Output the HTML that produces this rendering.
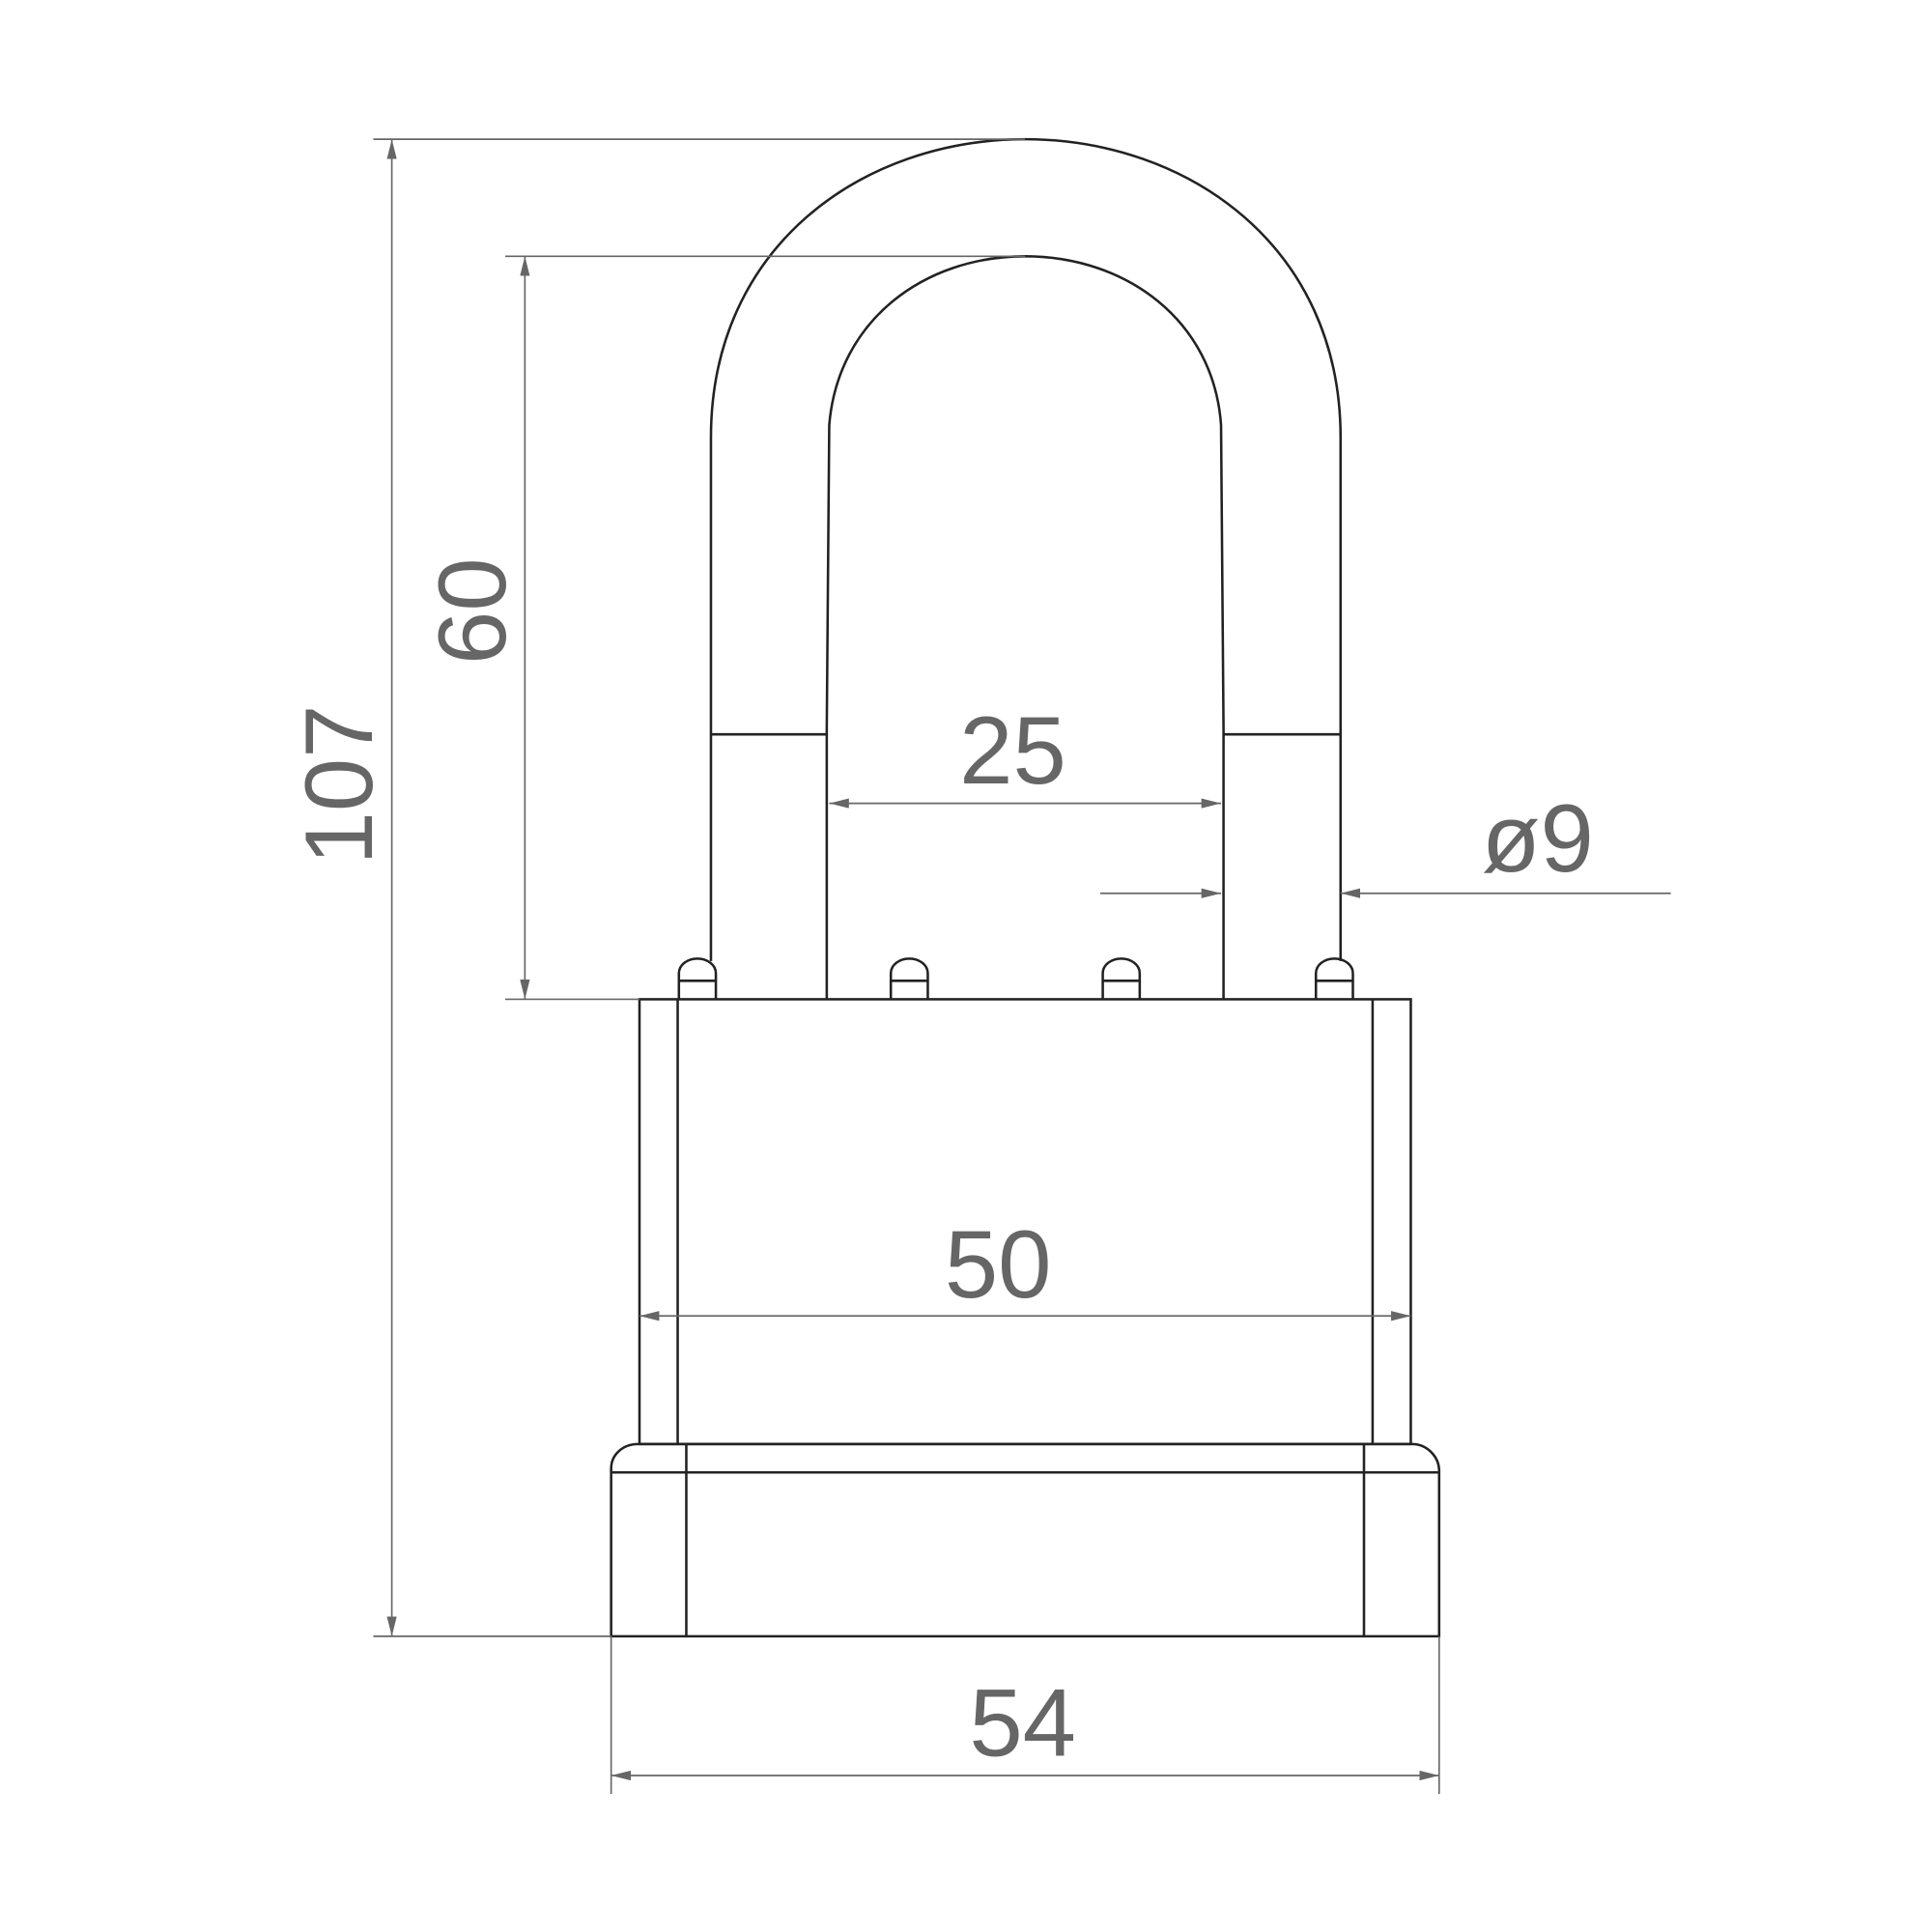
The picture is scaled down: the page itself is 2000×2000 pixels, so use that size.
<!DOCTYPE html>
<html><head><meta charset="utf-8"><style>html,body{margin:0;padding:0;background:#fff}svg{display:block}</style></head>
<body>
<svg width="2000" height="2000" viewBox="0 0 1568 1568" xmlns="http://www.w3.org/2000/svg">
<defs>
<marker id="a" viewBox="0 0 16 8" refX="16" refY="4" markerWidth="16" markerHeight="8" markerUnits="userSpaceOnUse" orient="auto-start-reverse"><path d="M0,0 L16,4 L0,8 Z" fill="#666"/></marker>
</defs>
<rect width="1568" height="1568" fill="#fff"/>
<g fill="none" stroke="#222" stroke-width="2">
<!-- shackle -->
<path d="M577,780 L577,355 C577,200 700,113 832,113 C964,113 1088,200 1088,355 L1088,780"/>
<path d="M671,811 L671,590 L673,345 C680,260 750,208 832,208 C914,208 985,260 991,345 L993,590 L993,811"/>
<line x1="577" y1="596" x2="671" y2="596"/>
<line x1="993" y1="596" x2="1088" y2="596"/>
<!-- pins -->
<g id="p"><path d="M551,811 L551,790 C551,783 558,778 566,778 C574,778 581,783 581,790 L581,811"/><line x1="551" y1="796" x2="581" y2="796"/></g>
<use href="#p" x="172"/><use href="#p" x="344"/><use href="#p" x="517"/>
<!-- body -->
<rect x="519" y="811" width="626" height="361"/>
<line x1="550" y1="811" x2="550" y2="1172"/>
<line x1="1114" y1="811" x2="1114" y2="1172"/>
<path d="M496,1328 L496,1192 C496,1180 506,1172 518,1172 L1146,1172 C1158,1172 1168,1182 1168,1194 L1168,1328 Z"/>
<line x1="496" y1="1195" x2="1168" y2="1195"/>
<line x1="557" y1="1172" x2="557" y2="1328"/>
<line x1="1107" y1="1172" x2="1107" y2="1328"/>
</g>
<g stroke="#666" stroke-width="1.3" fill="none">
<line x1="303" y1="113" x2="832" y2="113"/>
<line x1="303" y1="1328" x2="496" y2="1328"/>
<line x1="318" y1="113" x2="318" y2="1328" marker-start="url(#a)" marker-end="url(#a)"/>
<line x1="410" y1="208" x2="832" y2="208"/>
<line x1="410" y1="811" x2="519" y2="811"/>
<line x1="426" y1="208" x2="426" y2="811" marker-start="url(#a)" marker-end="url(#a)"/>
<line x1="673" y1="652" x2="991" y2="652" marker-start="url(#a)" marker-end="url(#a)"/>
<line x1="519" y1="1068" x2="1145" y2="1068" marker-start="url(#a)" marker-end="url(#a)"/>
<line x1="496" y1="1328" x2="496" y2="1456"/>
<line x1="1168" y1="1328" x2="1168" y2="1456"/>
<line x1="496" y1="1441" x2="1168" y2="1441" marker-start="url(#a)" marker-end="url(#a)"/>
<line x1="893" y1="725" x2="991" y2="725" marker-end="url(#a)"/>
<line x1="1356" y1="725" x2="1088" y2="725" marker-end="url(#a)"/>
</g>
<g fill="#666" font-family="Liberation Sans, sans-serif" font-size="78" text-anchor="middle">
<text x="822" y="636">25</text>
<text x="810" y="1053">50</text>
<text x="830" y="1425">54</text>
<text x="1248" y="707">ø9</text>
<text transform="translate(302,637) rotate(-90)">107</text>
<text transform="translate(410,496) rotate(-90)">60</text>
</g>
</svg>
</body></html>
